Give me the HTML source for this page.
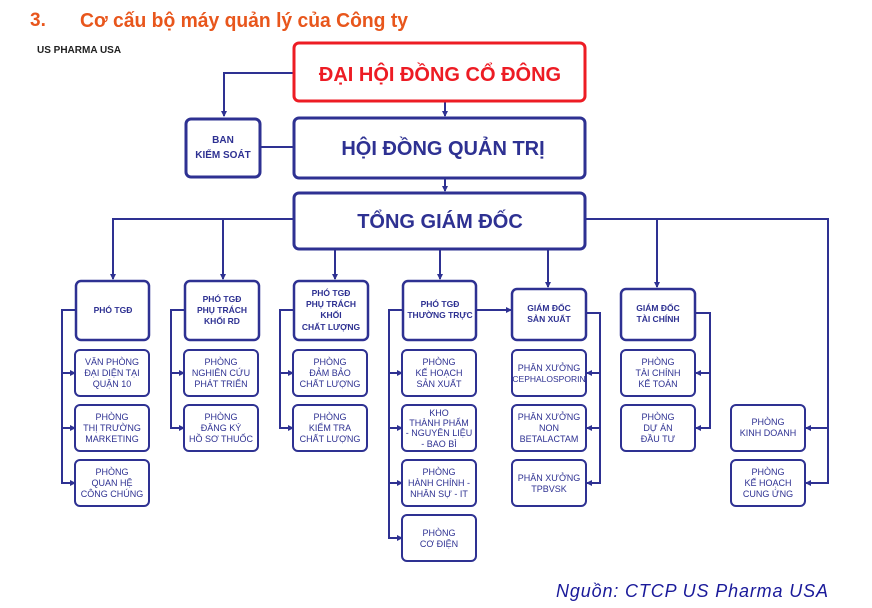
<!DOCTYPE html>
<html><head><meta charset="utf-8"><style>
body{margin:0;background:#fff;width:872px;height:608px;overflow:hidden}
svg{display:block}
.t{font-family:"Liberation Sans",sans-serif;fill:#2e3192;text-anchor:middle}
.c{font-size:9px}
.h{font-size:8.5px;font-weight:bold}
</style></head><body>
<svg width="872" height="608" viewBox="0 0 872 608" xmlns="http://www.w3.org/2000/svg">
<defs><marker id="a" markerWidth="6" markerHeight="6" refX="5" refY="3" orient="auto" markerUnits="userSpaceOnUse"><path d="M0,0 L6,3 L0,6 Z" fill="#2e3192"/></marker></defs>
<text x="30" y="26" font-family="Liberation Sans,sans-serif" font-size="19" font-weight="bold" fill="#e8561c">3.</text>
<text x="80" y="27" font-family="Liberation Sans,sans-serif" font-size="20" font-weight="bold" fill="#e8561c" textLength="328" lengthAdjust="spacingAndGlyphs">Cơ cấu bộ máy quản lý của Công ty</text>
<text x="37" y="53" font-family="Liberation Sans,sans-serif" font-size="10" font-weight="bold" fill="#222">US PHARMA USA</text>
<g fill="none" stroke="#2e3192" stroke-width="2">
<path d="M295,73 H224 V116" marker-end="url(#a)"/>
<path d="M445,101 V116" marker-end="url(#a)"/>
<path d="M260,147 H295"/>
<path d="M445,178 V191" marker-end="url(#a)"/>
<path d="M295,219 H113 V279" marker-end="url(#a)"/>
<path d="M223,219 V279" marker-end="url(#a)"/>
<path d="M335,249 V279" marker-end="url(#a)"/>
<path d="M440,249 V279" marker-end="url(#a)"/>
<path d="M548,249 V287" marker-end="url(#a)"/>
<path d="M585,219 H828 V483 H806" marker-end="url(#a)"/>
<path d="M828,428 H806" marker-end="url(#a)"/>
<path d="M657,219 V287" marker-end="url(#a)"/>
<path d="M76,310 H62 V483 H75" marker-end="url(#a)"/>
<path d="M62,373 H75" marker-end="url(#a)"/><path d="M62,428 H75" marker-end="url(#a)"/>
<path d="M185,310 H171 V428 H184" marker-end="url(#a)"/>
<path d="M171,373 H184" marker-end="url(#a)"/>
<path d="M294,310 H280 V428 H293" marker-end="url(#a)"/>
<path d="M280,373 H293" marker-end="url(#a)"/>
<path d="M402,310 H389 V538 H402" marker-end="url(#a)"/>
<path d="M389,373 H402" marker-end="url(#a)"/><path d="M389,428 H402" marker-end="url(#a)"/><path d="M389,483 H402" marker-end="url(#a)"/>
<path d="M476,310 H511" marker-end="url(#a)"/>
<path d="M586,313 H600 V483 H587" marker-end="url(#a)"/>
<path d="M600,373 H587" marker-end="url(#a)"/><path d="M600,428 H587" marker-end="url(#a)"/>
<path d="M695,313 H710 V428 H696" marker-end="url(#a)"/>
<path d="M710,373 H696" marker-end="url(#a)"/>
</g>
<rect x="294" y="43" width="291" height="58" rx="5" fill="#fff" stroke="#ed1c24" stroke-width="3"/>
<g fill="#fff" stroke="#2e3192">
<rect x="294" y="118" width="291" height="60" rx="5" stroke-width="3"/>
<rect x="186" y="119" width="74" height="58" rx="5" stroke-width="3"/>
<rect x="294" y="193" width="291" height="56" rx="5" stroke-width="3"/>
<g stroke-width="2.5">
<rect x="76" y="281" width="73" height="59" rx="5"/>
<rect x="185" y="281" width="74" height="59" rx="5"/>
<rect x="294" y="281" width="74" height="59" rx="5"/>
<rect x="403" y="281" width="73" height="59" rx="5"/>
<rect x="512" y="289" width="74" height="51" rx="5"/>
<rect x="621" y="289" width="74" height="51" rx="5"/>
</g>
<g stroke-width="2">
<rect x="75" y="350" width="74" height="46" rx="5"/><rect x="75" y="405" width="74" height="46" rx="5"/><rect x="75" y="460" width="74" height="46" rx="5"/>
<rect x="184" y="350" width="74" height="46" rx="5"/><rect x="184" y="405" width="74" height="46" rx="5"/>
<rect x="293" y="350" width="74" height="46" rx="5"/><rect x="293" y="405" width="74" height="46" rx="5"/>
<rect x="402" y="350" width="74" height="46" rx="5"/><rect x="402" y="405" width="74" height="46" rx="5"/><rect x="402" y="460" width="74" height="46" rx="5"/><rect x="402" y="515" width="74" height="46" rx="5"/>
<rect x="512" y="350" width="74" height="46" rx="5"/><rect x="512" y="405" width="74" height="46" rx="5"/><rect x="512" y="460" width="74" height="46" rx="5"/>
<rect x="621" y="350" width="74" height="46" rx="5"/><rect x="621" y="405" width="74" height="46" rx="5"/>
<rect x="731" y="405" width="74" height="46" rx="5"/><rect x="731" y="460" width="74" height="46" rx="5"/>
</g></g>
<text x="440" y="81" font-family="Liberation Sans,sans-serif" font-size="20" font-weight="bold" fill="#ed1c24" text-anchor="middle">ĐẠI HỘI ĐỒNG CỔ ĐÔNG</text>
<text class="t" x="443" y="155" font-size="20" font-weight="bold">HỘI ĐỒNG QUẢN TRỊ</text>
<text class="t" x="440" y="228" font-size="20" font-weight="bold">TỔNG GIÁM ĐỐC</text>
<text class="t" x="223" y="143" font-size="10" font-weight="bold">BAN</text>
<text class="t" x="223" y="158" font-size="10" font-weight="bold">KIỂM SOÁT</text>
<g class="t h">
<text x="113" y="313">PHÓ TGĐ</text>
<text x="222" y="302">PHÓ TGĐ</text><text x="222" y="313">PHỤ TRÁCH</text><text x="222" y="324">KHỐI RD</text>
<text x="331" y="296">PHÓ TGĐ</text><text x="331" y="307">PHỤ TRÁCH</text><text x="331" y="318">KHỐI</text><text x="331" y="330">CHẤT LƯỢNG</text>
<text x="440" y="307">PHÓ TGĐ</text><text x="440" y="318">THƯỜNG TRỰC</text>
<text x="549" y="311">GIÁM ĐỐC</text><text x="549" y="322">SẢN XUẤT</text>
<text x="658" y="311">GIÁM ĐỐC</text><text x="658" y="322">TÀI CHÍNH</text>
</g>
<g class="t c">
<text x="112" y="365">VĂN PHÒNG</text><text x="112" y="376">ĐẠI DIỆN TẠI</text><text x="112" y="387">QUẬN 10</text>
<text x="112" y="420">PHÒNG</text><text x="112" y="431">THỊ TRƯỜNG</text><text x="112" y="442">MARKETING</text>
<text x="112" y="475">PHÒNG</text><text x="112" y="486">QUAN HỆ</text><text x="112" y="497">CÔNG CHÚNG</text>
<text x="221" y="365">PHÒNG</text><text x="221" y="376">NGHIÊN CỨU</text><text x="221" y="387">PHÁT TRIỂN</text>
<text x="221" y="420">PHÒNG</text><text x="221" y="431">ĐĂNG KÝ</text><text x="221" y="442">HỒ SƠ THUỐC</text>
<text x="330" y="365">PHÒNG</text><text x="330" y="376">ĐẢM BẢO</text><text x="330" y="387">CHẤT LƯỢNG</text>
<text x="330" y="420">PHÒNG</text><text x="330" y="431">KIỂM TRA</text><text x="330" y="442">CHẤT LƯỢNG</text>
<text x="439" y="365">PHÒNG</text><text x="439" y="376">KẾ HOẠCH</text><text x="439" y="387">SẢN XUẤT</text>
<text x="439" y="416">KHO</text><text x="439" y="426">THÀNH PHẨM</text><text x="439" y="436">- NGUYÊN LIỆU</text><text x="439" y="447">- BAO BÌ</text>
<text x="439" y="475">PHÒNG</text><text x="439" y="486">HÀNH CHÍNH -</text><text x="439" y="497">NHÂN SỰ - IT</text>
<text x="439" y="536">PHÒNG</text><text x="439" y="547">CƠ ĐIỆN</text>
<text x="549" y="371">PHÂN XƯỞNG</text><text x="549" y="382" font-size="8.5">CEPHALOSPORIN</text>
<text x="549" y="420">PHÂN XƯỞNG</text><text x="549" y="431">NON</text><text x="549" y="442">BETALACTAM</text>
<text x="549" y="481">PHÂN XƯỞNG</text><text x="549" y="492">TPBVSK</text>
<text x="658" y="365">PHÒNG</text><text x="658" y="376">TÀI CHÍNH</text><text x="658" y="387">KẾ TOÁN</text>
<text x="658" y="420">PHÒNG</text><text x="658" y="431">DỰ ÁN</text><text x="658" y="442">ĐẦU TƯ</text>
<text x="768" y="425">PHÒNG</text><text x="768" y="436">KINH DOANH</text>
<text x="768" y="475">PHÒNG</text><text x="768" y="486">KẾ HOẠCH</text><text x="768" y="497">CUNG ỨNG</text>
</g>
<text x="556" y="597" font-family="Liberation Sans,sans-serif" font-size="18" font-style="italic" fill="#1a1a9a" textLength="272">Nguồn: CTCP US Pharma USA</text>
</svg>
</body></html>
